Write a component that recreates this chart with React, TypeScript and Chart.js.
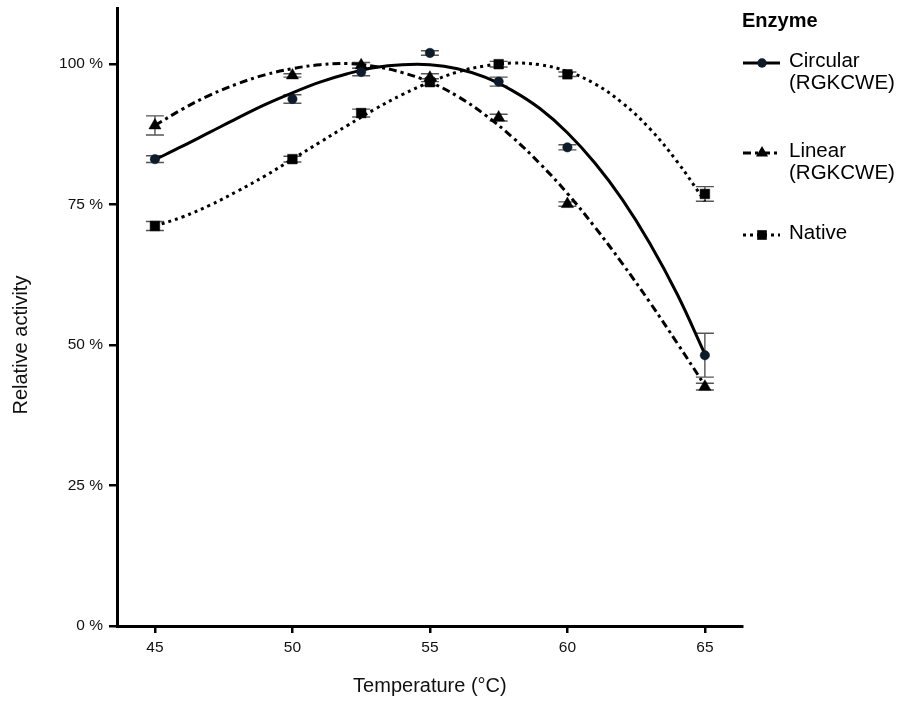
import React, { useEffect, useRef } from "react";
import { Chart, registerables } from "chart.js";

Chart.register(...registerables);

// ---------- data ----------
const temperatures = [45, 50, 52.5, 55, 57.5, 60, 65];
const circularMean = [83.1, 93.8, 98.6, 102.0, 96.9, 85.2, 48.2];
const circularSd = [0.6, 0.75, 0.65, 0.4, 0.8, 0.45, 3.9];
const linearMean = [89.1, 98.0, 99.8, 97.6, 90.5, 75.1, 42.6];
const linearSd = [1.7, 0.3, 0.5, 0.7, 0.6, 0.4, 0.6];
const nativeMean = [71.2, 83.1, 91.3, 96.8, 100.0, 98.2, 76.9];
const nativeSd = [0.8, 0.5, 0.7, 0.6, 0.5, 0.4, 1.3];

// fitted curves at 1 °C steps
const fitTemps = [45, 46, 47, 48, 49, 50, 51, 52, 53, 54, 55, 56, 57, 58, 59, 60, 61, 62, 63, 64, 65];
const circularFit = [83.0, 85.4, 87.9, 90.4, 92.8, 94.9, 96.8, 98.3, 99.4, 99.9, 99.9, 99.2, 97.7, 95.3, 92.1, 87.8, 82.4, 75.9, 68.1, 59.0, 48.4];
const linearFit = [89.1, 92.0, 94.5, 96.5, 98.1, 99.2, 99.9, 100.1, 99.6, 98.5, 96.8, 94.3, 91.0, 87.0, 82.3, 77.0, 71.0, 64.5, 57.6, 50.3, 42.8];
const nativeFit = [71.2, 72.8, 74.9, 77.4, 80.1, 83.1, 86.1, 89.1, 92.0, 94.6, 96.8, 98.6, 99.7, 100.2, 99.9, 98.7, 96.5, 93.1, 88.5, 82.6, 75.6];

const seriesNames = [["Circular", "(RGKCWE)"], ["Linear", "(RGKCWE)"], ["Native"]];
const legendTitle = "Enzyme";
const xTicks = [45, 50, 55, 60, 65];
const yTicks = [0, 25, 50, 75, 100];
const xTitle = "Temperature (°C)";
const yTitle = "Relative activity";

// ---------- styles ----------
const FONT = "'Liberation Sans', Arial, Helvetica, sans-serif";
const CIRCLE_COLOR = "#0d1b2a";
const BLACK = "#000000";
const styles = [
  { dash: [] as number[], shape: "circle", color: CIRCLE_COLOR, radius: 4.7 },
  { dash: [8, 4, 3, 4], shape: "triangle", color: BLACK, radius: 7 },
  { dash: [3, 4], shape: "rect", color: BLACK, radius: 6.8 },
];
const means = [circularMean, linearMean, nativeMean];
const sds = [circularSd, linearSd, nativeSd];
const fits = [circularFit, linearFit, nativeFit];

function drawShape(ctx: CanvasRenderingContext2D, shape: string, x: number, y: number, r: number) {
  ctx.beginPath();
  if (shape === "circle") {
    ctx.arc(x, y, r, 0, Math.PI * 2);
  } else if (shape === "triangle") {
    ctx.moveTo(x, y - r);
    ctx.lineTo(x + r * 0.866, y + r * 0.5);
    ctx.lineTo(x - r * 0.866, y + r * 0.5);
    ctx.closePath();
  } else {
    const s = r / Math.SQRT2;
    ctx.rect(x - s, y - s, 2 * s, 2 * s);
  }
  ctx.fill();
}

const errorBarPlugin = {
  id: "errorBars",
  beforeDatasetsDraw(chart: any) {
    const { ctx } = chart;
    const x = chart.scales.x;
    const y = chart.scales.y;
    ctx.save();
    ctx.strokeStyle = "#555555";
    ctx.lineWidth = 1.4;
    means.forEach((m, si) => {
      temperatures.forEach((t, i) => {
        const px = x.getPixelForValue(t);
        const top = y.getPixelForValue(m[i] + sds[si][i]);
        const bot = y.getPixelForValue(m[i] - sds[si][i]);
        ctx.beginPath();
        ctx.moveTo(px, top);
        ctx.lineTo(px, bot);
        ctx.moveTo(px - 9, top);
        ctx.lineTo(px + 9, top);
        ctx.moveTo(px - 9, bot);
        ctx.lineTo(px + 9, bot);
        ctx.stroke();
      });
    });
    ctx.restore();
  },
};

const decorPlugin = {
  id: "decor",
  afterDraw(chart: any) {
    const { ctx } = chart;
    const x = chart.scales.x;
    const y = chart.scales.y;
    ctx.save();
    // axis titles
    ctx.fillStyle = "#111111";
    ctx.font = `20px ${FONT}`;
    ctx.textAlign = "center";
    ctx.textBaseline = "middle";
    const cx = (x.getPixelForValue(xTicks[0]) + x.getPixelForValue(xTicks[xTicks.length - 1])) / 2;
    ctx.fillText(xTitle, cx, 686);
    const cy = (y.getPixelForValue(yTicks[0]) + y.getPixelForValue(yTicks[yTicks.length - 1])) / 2;
    ctx.save();
    ctx.translate(21, cy);
    ctx.rotate(-Math.PI / 2);
    ctx.fillText(yTitle, 0, 0);
    ctx.restore();

    // legend
    ctx.textAlign = "left";
    ctx.fillStyle = "#000000";
    ctx.font = `bold 20px ${FONT}`;
    ctx.fillText(legendTitle, 742, 21);
    const rowY = [61, 151, 233];
    ctx.font = `20.5px ${FONT}`;
    seriesNames.forEach((lines, i) => {
      const st = styles[i];
      const ly = rowY[i] + 2;
      ctx.save();
      ctx.strokeStyle = BLACK;
      ctx.lineWidth = 3;
      ctx.setLineDash(st.dash);
      ctx.beginPath();
      ctx.moveTo(743, ly);
      ctx.lineTo(780, ly);
      ctx.stroke();
      ctx.setLineDash([]);
      ctx.fillStyle = st.color;
      drawShape(ctx, st.shape, 762, ly, st.radius);
      ctx.restore();
      ctx.fillStyle = "#000000";
      lines.forEach((t, k) => ctx.fillText(t, 789, rowY[i] + k * 22));
    });
    ctx.restore();
  },
};

export default function App() {
  const ref = useRef<HTMLCanvasElement | null>(null);

  useEffect(() => {
    document.body.style.margin = "0";
    const canvas = ref.current;
    if (!canvas) return;

    const lineSets = fits.map((f, i) => ({
      type: "line" as const,
      label: seriesNames[i].join(" ") + " fit",
      data: fitTemps.map((t, k) => ({ x: t, y: f[k] })),
      borderColor: BLACK,
      borderWidth: 3,
      borderDash: styles[i].dash,
      pointRadius: 0,
      showLine: true,
      fill: false,
      tension: 0.4,
      order: 2,
    }));
    const pointSets = means.map((m, i) => ({
      type: "scatter" as const,
      label: seriesNames[i].join(" "),
      data: temperatures.map((t, k) => ({ x: t, y: m[k] })),
      pointStyle: styles[i].shape,
      pointRadius: styles[i].radius,
      pointBackgroundColor: styles[i].color,
      pointBorderColor: styles[i].color,
      pointBorderWidth: 0.5,
      showLine: false,
      order: 1,
    }));

    const chart = new Chart(canvas, {
      type: "scatter",
      data: { datasets: [...lineSets, ...pointSets] as any },
      options: {
        animation: false,
        responsive: false,
        devicePixelRatio: 1,
        layout: { padding: { top: 8, right: 160, left: 0, bottom: 0 } },
        plugins: { legend: { display: false }, tooltip: { enabled: false }, title: { display: false } },
        scales: {
          x: {
            type: "linear",
            min: 43.62,
            max: 66.35,
            afterBuildTicks: (s: any) => {
              s.ticks = xTicks.map((v) => ({ value: v }));
            },
            afterFit: (s: any) => {
              s.height = 76;
              s.paddingLeft = 0;
              s.paddingRight = 0;
            },
            ticks: {
              color: "#111111",
              font: { family: FONT, size: 15.5 },
              padding: 5,
              maxRotation: 0,
              autoSkip: false,
            },
            grid: { display: true, drawOnChartArea: false, drawTicks: true, tickLength: 7, color: BLACK, lineWidth: 2.5 },
            border: { display: true, color: BLACK, width: 3 },
          },
          y: {
            type: "linear",
            min: 0,
            max: 110,
            afterBuildTicks: (s: any) => {
              s.ticks = yTicks.map((v) => ({ value: v }));
            },
            afterFit: (s: any) => {
              s.width = 117;
              s.paddingTop = 0;
              s.paddingBottom = 0;
            },
            ticks: {
              color: "#111111",
              font: { family: FONT, size: 15.5 },
              padding: 6,
              callback: (v: any) => `${v} %`,
            },
            grid: { display: true, drawOnChartArea: false, drawTicks: true, tickLength: 8, color: BLACK, lineWidth: 2.5 },
            border: { display: true, color: BLACK, width: 3 },
          },
        },
      },
      plugins: [errorBarPlugin, decorPlugin],
    });
    return () => chart.destroy();
  }, []);

  return <canvas ref={ref} width={902} height={702} style={{ display: "block" }} />;
}
